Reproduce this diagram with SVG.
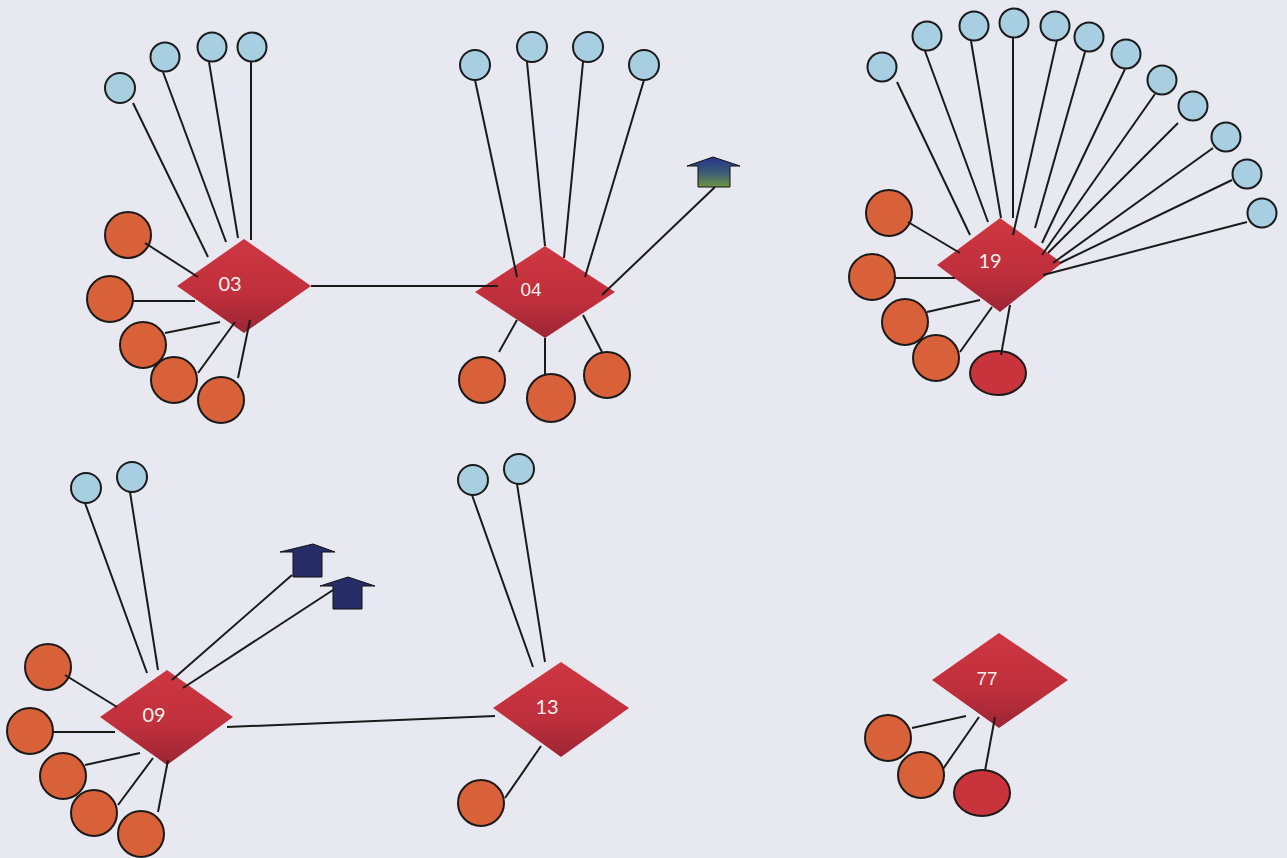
<svg xmlns="http://www.w3.org/2000/svg" width="1287" height="858" viewBox="0 0 1287 858">
<defs>
<linearGradient id="gDia" x1="0" y1="0" x2="0" y2="1">
<stop offset="0" stop-color="#cd3741"/>
<stop offset="0.6" stop-color="#bf2f3c"/>
<stop offset="1" stop-color="#9c2534"/>
</linearGradient>
<linearGradient id="gArr" x1="0" y1="0" x2="0" y2="1">
<stop offset="0" stop-color="#27348a"/>
<stop offset="0.5" stop-color="#3a5a78"/>
<stop offset="1" stop-color="#6d9444"/>
</linearGradient>
<style>
.dia{fill:url(#gDia);stroke:none}
.blue{fill:#a8cfe1;stroke:#1a1a1a;stroke-width:2}
.org{fill:#d8613a;stroke:#1a1a1a;stroke-width:2}
.red{fill:#c9333b;stroke:#1a1a1a;stroke-width:2}
.arrA{fill:url(#gArr);stroke:#111;stroke-width:1}
.arrB{fill:#272d66;stroke:#111;stroke-width:1}
.lbl{fill:#f7efe9;font-family:Lato,"Open Sans",sans-serif;font-size:20px;text-anchor:middle}
.lbl2{fill:#f7efe9;font-family:"Liberation Sans",Arial,sans-serif;font-size:19px;text-anchor:middle}
.edges line{stroke:#1a1a1a;stroke-width:2}
</style>
</defs>
<rect width="1287" height="858" fill="#e8e9f0"/>

<g id="n03"><polygon class="dia" points="177,286 244,239 311,286 244,333"/><text class="lbl" x="230" y="291">03</text></g>
<g id="n04"><polygon class="dia" points="475,292 545,246 615,292 545,338"/><text class="lbl2" x="531" y="296">04</text></g>
<g id="n19"><polygon class="dia" points="937,265 1000,218 1062,263 1000,312"/><text class="lbl" x="990" y="268">19</text></g>
<g id="n09"><polygon class="dia" points="100,717 167,670 233,717 167,765"/><text class="lbl" x="154" y="722">09</text></g>
<g id="n13"><polygon class="dia" points="493,708 561,662 629,708 561,757"/><text class="lbl" x="547" y="714">13</text></g>
<g id="n77"><polygon class="dia" points="932,680 999,633 1068,680 999,728"/><text class="lbl2" x="987" y="685">77</text></g>

<g id="n03-leaves">
<circle class="blue" cx="120" cy="88" r="15"/>
<circle class="blue" cx="165" cy="57" r="14.5"/>
<circle class="blue" cx="212" cy="47" r="14.5"/>
<circle class="blue" cx="252" cy="47" r="14.5"/>
<circle class="org" cx="128" cy="235" r="23"/>
<circle class="org" cx="110" cy="299" r="23"/>
<circle class="org" cx="143" cy="345" r="23"/>
<circle class="org" cx="174" cy="380" r="23"/>
<circle class="org" cx="221" cy="400" r="23"/>
</g>
<g id="n04-leaves">
<circle class="blue" cx="475" cy="65" r="15"/>
<circle class="blue" cx="532" cy="47" r="15"/>
<circle class="blue" cx="588" cy="47" r="15"/>
<circle class="blue" cx="644" cy="65" r="15"/>
<circle class="org" cx="482" cy="380" r="23"/>
<circle class="org" cx="551" cy="398" r="24"/>
<circle class="org" cx="607" cy="375" r="23"/>
<path id="a04" class="arrA" d="M687,166 L713,157 L740,166 L730,166 L730,187 L698,187 L698,166 Z"/>
</g>
<g id="n19-leaves">
<circle class="blue" cx="882" cy="67" r="14.5"/>
<circle class="blue" cx="927" cy="36" r="14.5"/>
<circle class="blue" cx="974" cy="26" r="14.5"/>
<circle class="blue" cx="1014" cy="23" r="14.5"/>
<circle class="blue" cx="1055" cy="26" r="14.5"/>
<circle class="blue" cx="1089" cy="37" r="14.5"/>
<circle class="blue" cx="1126" cy="54" r="14.5"/>
<circle class="blue" cx="1162" cy="80" r="14.5"/>
<circle class="blue" cx="1193" cy="106" r="14.5"/>
<circle class="blue" cx="1226" cy="137" r="14.5"/>
<circle class="blue" cx="1247" cy="174" r="14.5"/>
<circle class="blue" cx="1262" cy="213" r="14.5"/>
<circle class="org" cx="889" cy="213" r="23"/>
<circle class="org" cx="872" cy="277" r="23"/>
<circle class="org" cx="905" cy="322" r="23"/>
<circle class="org" cx="936" cy="358" r="23"/>
<ellipse class="red" cx="998" cy="373" rx="28" ry="22"/>
</g>
<g id="n09-leaves">
<circle class="blue" cx="86" cy="488" r="15"/>
<circle class="blue" cx="132" cy="477" r="15"/>
<circle class="org" cx="48" cy="667" r="23"/>
<circle class="org" cx="30" cy="731" r="23"/>
<circle class="org" cx="63" cy="776" r="23"/>
<circle class="org" cx="94" cy="813" r="23"/>
<circle class="org" cx="141" cy="834" r="23"/>
<path id="a09a" class="arrB" d="M280,552 L313,544 L335,552 L322,552 L322,577 L293,577 L293,552 Z"/>
<path id="a09b" class="arrB" d="M320,586 L348,577 L375,586 L362,586 L362,609 L333,609 L333,586 Z"/>
</g>
<g id="n13-leaves">
<circle class="blue" cx="473" cy="480" r="15"/>
<circle class="blue" cx="519" cy="469" r="15"/>
<circle class="org" cx="481" cy="803" r="23"/>
</g>
<g id="n77-leaves">
<circle class="org" cx="888" cy="738" r="23"/>
<circle class="org" cx="921" cy="775" r="23"/>
<ellipse class="red" cx="982" cy="793" rx="28" ry="23"/>
</g>

<g class="edges" id="connectors">
<line x1="133" y1="103" x2="208" y2="257"/>
<line x1="163" y1="72" x2="226" y2="242"/>
<line x1="209" y1="62" x2="238" y2="238"/>
<line x1="251" y1="62" x2="251" y2="240"/>
<line x1="145" y1="243" x2="198" y2="277"/>
<line x1="133" y1="301" x2="195" y2="301"/>
<line x1="165" y1="333" x2="220" y2="322"/>
<line x1="198" y1="373" x2="235" y2="322"/>
<line x1="238" y1="378" x2="250" y2="320"/>
<line x1="311" y1="286" x2="498" y2="286"/>

<line x1="475" y1="80" x2="517" y2="277"/>
<line x1="527" y1="62" x2="545" y2="246"/>
<line x1="583" y1="62" x2="564" y2="258"/>
<line x1="644" y1="80" x2="585" y2="277"/>
<line x1="715" y1="187" x2="602" y2="295"/>
<line x1="499" y1="352" x2="517" y2="320"/>
<line x1="545" y1="374" x2="545" y2="338"/>
<line x1="602" y1="352" x2="583" y2="315"/>

<line x1="897" y1="82" x2="970" y2="235"/>
<line x1="925" y1="51" x2="988" y2="222"/>
<line x1="971" y1="41" x2="1001" y2="218"/>
<line x1="1013" y1="38" x2="1013" y2="218"/>
<line x1="1057" y1="40" x2="1013" y2="235"/>
<line x1="1085" y1="52" x2="1035" y2="228"/>
<line x1="1125" y1="69" x2="1042" y2="243"/>
<line x1="1155" y1="94" x2="1042" y2="255"/>
<line x1="1178" y1="123" x2="1048" y2="253"/>
<line x1="1213" y1="148" x2="1053" y2="263"/>
<line x1="1232" y1="180" x2="1060" y2="263"/>
<line x1="1247" y1="222" x2="1043" y2="275"/>
<line x1="908" y1="222" x2="960" y2="253"/>
<line x1="895" y1="278" x2="955" y2="278"/>
<line x1="927" y1="312" x2="980" y2="300"/>
<line x1="960" y1="352" x2="992" y2="307"/>
<line x1="1001" y1="355" x2="1010" y2="305"/>

<line x1="85" y1="503" x2="147" y2="673"/>
<line x1="130" y1="492" x2="158" y2="670"/>
<line x1="292" y1="575" x2="172" y2="680"/>
<line x1="333" y1="590" x2="183" y2="688"/>
<line x1="65" y1="675" x2="117" y2="707"/>
<line x1="53" y1="732" x2="115" y2="732"/>
<line x1="85" y1="765" x2="140" y2="753"/>
<line x1="118" y1="805" x2="153" y2="758"/>
<line x1="158" y1="812" x2="168" y2="760"/>
<line x1="227" y1="727" x2="495" y2="716"/>

<line x1="472" y1="495" x2="533" y2="667"/>
<line x1="517" y1="484" x2="545" y2="662"/>
<line x1="505" y1="798" x2="541" y2="746"/>

<line x1="912" y1="728" x2="966" y2="716"/>
<line x1="943" y1="769" x2="979" y2="717"/>
<line x1="985" y1="771" x2="995" y2="717"/>
</g>
</svg>
